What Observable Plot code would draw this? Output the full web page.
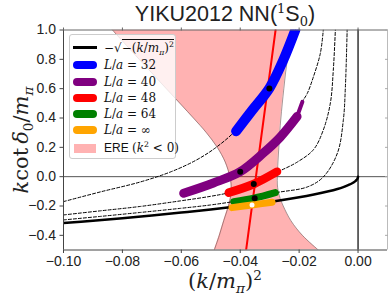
<!DOCTYPE html>
<html><head><meta charset="utf-8">
<script src="https://cdn.jsdelivr.net/npm/d3@7"></script>
<script src="https://cdn.jsdelivr.net/npm/@observablehq/plot@0.6"></script>
<style>
html,body{margin:0;padding:0;background:#fff;}
#wrap{position:relative;width:390px;height:302px;overflow:hidden;font-family:"Liberation Sans",Arial,sans-serif;color:#222;}
#wrap svg{position:absolute;left:0;top:0;}
.m{font-family:"DejaVu Serif",serif;}
.m i{font-style:italic;}
.ov{position:absolute;white-space:nowrap;}
#title{left:63px;width:324px;top:1px;text-align:center;font-size:21.5px;line-height:26px;}
#title sup,#title sub{font-family:"DejaVu Serif",serif;font-size:13px;line-height:0;}
#xlab{left:63px;width:324px;top:268px;text-align:center;font-size:21px;line-height:26px;}
#ylab{left:21px;top:140px;transform:translate(-50%,-50%) rotate(-90deg);font-size:21px;line-height:24px;}
#ylab .sp{display:inline-block;width:4px;}
sub,sup{font-size:65%;line-height:0;}
#legend{left:69px;top:34px;width:105px;height:123px;border:1px solid #ccc;border-radius:3px;background:rgba(255,255,255,0.8);}
.h{position:absolute;left:3px;width:24px;border-radius:5px;}
.t{position:absolute;left:34px;font-size:12px;line-height:14px;transform:translateY(-50%);color:#111;}
</style></head><body><div id="wrap"></div>
<script>
// ---- axes ----
const xDomain = [-0.1, 0.01];
const yDomain = [-0.5, 1.0];
const xTickValues = [-0.10, -0.08, -0.06, -0.04, -0.02, 0.00];
const xTickLabels = ["\u22120.10","\u22120.08","\u22120.06","\u22120.04","\u22120.02","0.00"];
const yTickValues = [-0.4, -0.2, 0.0, 0.2, 0.4, 0.6, 0.8, 1.0];
const yTickLabels = ["\u22120.4","\u22120.2","0.0","0.2","0.4","0.6","0.8","1.0"];
const zeroLine = [0];

// ---- -sqrt(-(k/m)^2) curve ----
const boundX = [-0.1,-0.09,-0.08,-0.07,-0.06,-0.05,-0.04,-0.03,-0.02,-0.015,-0.01,-0.007,-0.005,-0.003,-0.002,-0.001,-0.0005,-0.0002,0];
const boundY = [-0.316,-0.300,-0.283,-0.265,-0.245,-0.224,-0.200,-0.173,-0.141,-0.122,-0.100,-0.084,-0.071,-0.055,-0.045,-0.032,-0.022,-0.014,0];

// ---- ERE band (k^2<0) ----
const ereY     = [1.0, 0.8, 0.6, 0.4, 0.3, 0.2, 0.1, 0.0, -0.05, -0.1, -0.15, -0.2, -0.3, -0.4, -0.5];
const ereLeft  = [-0.0834,-0.0743,-0.0651,-0.0559,-0.0515,-0.0478,-0.0451,-0.0435,-0.0431,-0.0431,-0.0434,-0.0440,-0.0456,-0.0471,-0.0488];
const ereRight = [-0.0220,-0.0240,-0.0252,-0.0262,-0.0266,-0.0269,-0.0272,-0.0274,-0.0274,-0.0271,-0.0264,-0.0254,-0.0228,-0.0189,-0.0135];

// ---- finite-volume (dashed) curves ----
const l32X = [-0.1,-0.0875,-0.0739,-0.0637,-0.0552,-0.0485,-0.0417,-0.0359,-0.0301,-0.0254,-0.0213];
const l32Y = [-0.170,-0.104,-0.036,0.032,0.110,0.195,0.311,0.454,0.603,0.794,1.0];
const l40X = [-0.0592,-0.0491,-0.0400,-0.0322,-0.0264,-0.0207,-0.0189,-0.0172,-0.0152,-0.0128,-0.0118];
const l40Y = [-0.113,-0.043,0.034,0.160,0.270,0.410,0.510,0.569,0.678,0.841,1.0];
const l48X = [-0.1,-0.0875,-0.0739,-0.0603,-0.0501,-0.0439,-0.0356,-0.0271,-0.0206,-0.0151,-0.0118,-0.0094,-0.0084,-0.0077];
const l48Y = [-0.261,-0.233,-0.203,-0.165,-0.134,-0.109,-0.050,0.034,0.100,0.185,0.318,0.502,0.726,1.0];
const l64X = [-0.1,-0.0875,-0.0739,-0.0603,-0.0501,-0.0423,-0.0352,-0.0277,-0.0172,-0.0118,-0.0070,-0.0050,-0.0043,-0.0037];
const l64Y = [-0.295,-0.271,-0.244,-0.216,-0.193,-0.170,-0.145,-0.109,-0.070,-0.002,0.161,0.385,0.610,1.0];

// ---- lattice bands ----
const blueX   = [-0.0414,-0.0359,-0.0301,-0.0254,-0.0213];
const blueY   = [0.310,0.454,0.603,0.794,1.0];
const purpleX = [-0.0592,-0.0491,-0.0400,-0.0322,-0.0264,-0.0207];
const purpleY = [-0.113,-0.043,0.034,0.160,0.270,0.410];
const purpleTipX = [-0.0207,-0.0189];
const purpleTipY = [0.410,0.510];
const redX    = [-0.0439,-0.0354,-0.0275];
const redY    = [-0.109,-0.050,0.034];
const greenX  = [-0.0422,-0.0354,-0.0281];
const greenY  = [-0.170,-0.147,-0.109];
const orangeX = [-0.0428,-0.0360,-0.0292];
const orangeY = [-0.211,-0.193,-0.174];

// ---- pole trajectory and points ----
const trajX = [-0.0280,-0.0380];
const trajY = [1.0,-0.5];
const blackDotX = [-0.0301,-0.0400,-0.0354,-0.0351];
const blackDotY = [0.601,0.034,-0.050,-0.147];
const whiteDotX = [-0.0360];
const whiteDotY = [-0.193];

const pts = (xs, ys) => xs.map((x, i) => ({x, y: ys[i]}));
const ere = ereY.map((y, i) => ({y, l: ereLeft[i], r: ereRight[i]}));
const dash = {stroke: "#000", strokeWidth: 1, strokeDasharray: "3,2", curve: "catmull-rom", clip: true};
const band = (c, w) => ({stroke: c, strokeWidth: w, strokeLinecap: "round", curve: "catmull-rom", clip: true});

const chart = Plot.plot({
  width: 390, height: 302,
  marginLeft: 63, marginRight: 3, marginTop: 29.5, marginBottom: 52.5,
  style: {background: "transparent", fontFamily: "'Liberation Sans', Arial, sans-serif", overflow: "visible"},
  x: {domain: xDomain},
  y: {domain: yDomain},
  marks: [
    Plot.ruleY(zeroLine, {stroke: "#555", strokeWidth: 1}),
    Plot.ruleX(zeroLine, {stroke: "#000", strokeWidth: 1.2}),
    Plot.areaX(ere, {y: "y", x1: "l", x2: "r", fill: "#ff0000", fillOpacity: 0.3, curve: "catmull-rom", clip: true}),
    Plot.line(ere, {x: "l", y: "y", stroke: "#6b4d4d", strokeWidth: 0.6, curve: "catmull-rom", clip: true}),
    Plot.line(ere, {x: "r", y: "y", stroke: "#6b4d4d", strokeWidth: 0.6, curve: "catmull-rom", clip: true}),
    Plot.line(pts(l32X, l32Y), {x: "x", y: "y", ...dash}),
    Plot.line(pts(l40X, l40Y), {x: "x", y: "y", ...dash}),
    Plot.line(pts(l48X, l48Y), {x: "x", y: "y", ...dash}),
    Plot.line(pts(l64X, l64Y), {x: "x", y: "y", ...dash}),
    Plot.line(pts(boundX, boundY), {x: "x", y: "y", stroke: "#000", strokeWidth: 2.5, curve: "catmull-rom", clip: true}),
    Plot.line(pts(trajX, trajY), {x: "x", y: "y", stroke: "#ff0000", strokeWidth: 2, clip: true}),
    Plot.line(pts(blueX, blueY), {x: "x", y: "y", ...band("#0000ff", 10)}),
    Plot.line(pts(purpleTipX, purpleTipY), {x: "x", y: "y", ...band("#800080", 4)}),
    Plot.line(pts(purpleX, purpleY), {x: "x", y: "y", ...band("#800080", 9)}),
    Plot.line(pts(redX, redY), {x: "x", y: "y", ...band("#ff0000", 8.5)}),
    Plot.line(pts(greenX, greenY), {x: "x", y: "y", ...band("#008000", 7)}),
    Plot.line(pts(orangeX, orangeY), {x: "x", y: "y", ...band("#ffa500", 7)}),
    Plot.dot(pts(blackDotX, blackDotY), {x: "x", y: "y", r: 3, fill: "#000"}),
    Plot.dot(pts(whiteDotX, whiteDotY), {x: "x", y: "y", r: 2.5, fill: "#fff"}),
    Plot.ruleX([xDomain[1]], {stroke: "#bbb"}),
    Plot.ruleY([yDomain[1]], {stroke: "#666"}),
    Plot.ruleX([xDomain[0]], {stroke: "#444"}),
    Plot.ruleY([yDomain[0]], {stroke: "#444"}),
    Plot.axisX({ticks: xTickValues, tickFormat: d => xTickLabels[xTickValues.indexOf(d)], tickSize: 3.5, tickPadding: 3, fontSize: 14, label: null, stroke: "#444", fill: "#222"}),
    Plot.axisX({anchor: "top", ticks: xTickValues, tickSize: 3, tickFormat: () => "", label: null, stroke: "#666"}),
    Plot.axisY({ticks: yTickValues, tickFormat: d => yTickLabels[yTickValues.indexOf(d)], tickSize: 3.5, tickPadding: 4, fontSize: 14, label: null, stroke: "#444", fill: "#222"}),
    Plot.axisY({anchor: "right", ticks: yTickValues, tickSize: 3, dx: -3, tickFormat: () => "", label: null, stroke: "#aaa"})
  ]
});

const wrap = document.getElementById("wrap");
wrap.appendChild(chart);

function ov(id, html) {
  const d = document.createElement("div");
  d.className = "ov"; if (id) d.id = id; d.innerHTML = html; wrap.appendChild(d); return d;
}
ov("title", 'YIKU2012 NN(<sup>1</sup>S<sub>0</sub>)');
ov("xlab", '<span class="m">(<i>k</i>/<i>m</i><sub><i>π</i></sub>)<sup>2</sup></span>');
ov("ylab", '<span class="m"><i>k</i>cot<span class="sp"></span><i>δ</i><sub>0</sub>/<i>m</i><sub><i>π</i></sub></span>');

const legendNames = [
  '<span class="m">\u2212\u221A<span style="border-top:1px solid #111;padding-top:1px">\u2212(<i>k</i>/<i>m</i><sub><i>π</i></sub>)<sup>2</sup></span></span>',
  '<span class="m"><i>L</i>/<i>a</i> = 32</span>',
  '<span class="m"><i>L</i>/<i>a</i> = 40</span>',
  '<span class="m"><i>L</i>/<i>a</i> = 48</span>',
  '<span class="m"><i>L</i>/<i>a</i> = 64</span>',
  '<span class="m"><i>L</i>/<i>a</i> = \u221E</span>',
  'ERE <span class="m">(<i>k</i><sup>2</sup> &lt; 0)</span>'
];
const legendColors = ["#000", "#0000ff", "#800080", "#ff0000", "#008000", "#ffa500", "rgba(255,0,0,0.3)"];
const legendRows = [12.7, 30.3, 47, 63.3, 79.3, 95.3, 113.3];
const lg = ov("legend", "");
legendNames.forEach((name, i) => {
  const h = document.createElement("div");
  h.className = "h";
  const isPatch = i === 6, isLine = i === 0;
  const th = isLine ? 2.5 : isPatch ? 9 : 8;
  h.style.top = (legendRows[i] - th / 2) + "px";
  h.style.height = th + "px";
  h.style.background = legendColors[i];
  if (isLine || isPatch) h.style.borderRadius = "0";
  if (isPatch) { h.style.left = "4px"; h.style.width = "22px"; }
  lg.appendChild(h);
  const t = document.createElement("div");
  t.className = "t"; t.style.top = legendRows[i] + "px"; t.innerHTML = name;
  lg.appendChild(t);
});
</script></body></html>
